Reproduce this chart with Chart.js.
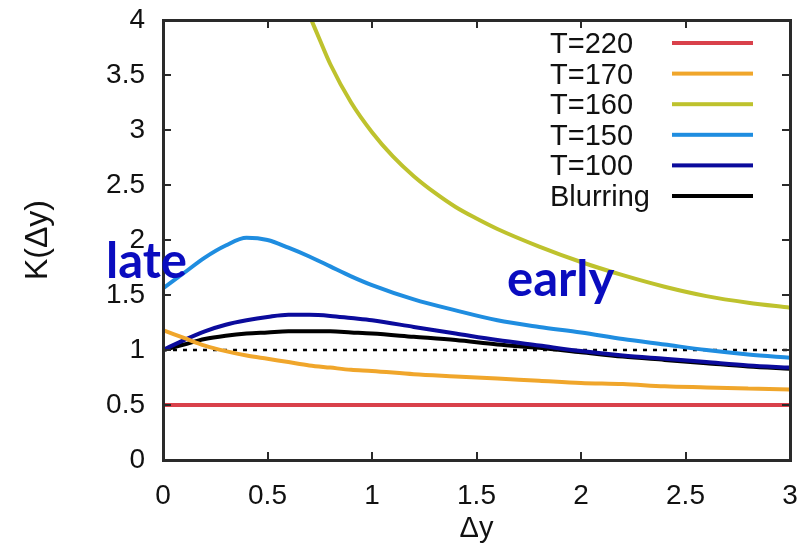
<!DOCTYPE html>
<html>
<head>
<meta charset="utf-8">
<script src="https://cdn.jsdelivr.net/npm/chart.js@4.4.1/dist/chart.umd.min.js"></script>
<style>
  html, body { margin: 0; padding: 0; background: #fff; }
  canvas { display: block; }
</style>
</head>
<body>
<canvas id="kChart" width="802" height="554"></canvas>
<script>
// shared Δy grid for most curves
var dyGrid = [0, 0.1, 0.2, 0.3, 0.4, 0.5, 0.6, 0.7, 0.8, 0.9, 1.0, 1.2, 1.4, 1.6, 1.8, 2.0, 2.2, 2.4, 2.6, 2.8, 3.0];
// T=160 only enters the frame at about Δy = 0.7
var dyGrid160 = [0.71, 0.75, 0.8, 0.9, 1.0, 1.1, 1.2, 1.3, 1.4, 1.5, 1.6, 1.8, 2.0, 2.2, 2.4, 2.6, 2.8, 3.0];

var kT220 = [0.5, 0.5, 0.5, 0.5, 0.5, 0.5, 0.5, 0.5, 0.5, 0.5, 0.5, 0.5, 0.5, 0.5, 0.5, 0.5, 0.5, 0.5, 0.5, 0.5, 0.5];
var kT170 = [1.18, 1.11, 1.04, 0.99, 0.95, 0.92, 0.89, 0.86, 0.84, 0.82, 0.81, 0.78, 0.76, 0.74, 0.72, 0.70, 0.69, 0.67, 0.66, 0.65, 0.64];
var kT160 = [4.0, 3.82, 3.60, 3.25, 2.98, 2.76, 2.58, 2.43, 2.30, 2.195, 2.10, 1.94, 1.80, 1.68, 1.575, 1.49, 1.43, 1.385];
var kT150 = [1.56, 1.70, 1.84, 1.95, 2.02, 2.00, 1.93, 1.85, 1.76, 1.67, 1.59, 1.46, 1.36, 1.27, 1.21, 1.16, 1.10, 1.05, 1.00, 0.96, 0.93];
var kT100 = [1.0, 1.09, 1.17, 1.23, 1.27, 1.30, 1.32, 1.32, 1.31, 1.29, 1.27, 1.21, 1.15, 1.09, 1.04, 0.99, 0.95, 0.92, 0.89, 0.86, 0.84];
var kBlur = [1.0, 1.05, 1.10, 1.13, 1.15, 1.16, 1.17, 1.17, 1.17, 1.16, 1.15, 1.12, 1.09, 1.05, 1.02, 0.98, 0.94, 0.91, 0.88, 0.85, 0.83];
var refLine = [1, 1]; // K = 1 reference, dotted
var refX = [0, 3];

var seriesLabels = ['T=220', 'T=170', 'T=160', 'T=150', 'T=100', 'Blurring'];
var seriesColors = ['#d9414b', '#f0a62b', '#bec22d', '#1f8de0', '#0b0b9c', '#000000'];

var xTicks = [0, 0.5, 1, 1.5, 2, 2.5, 3];
var yTicks = [0, 0.5, 1, 1.5, 2, 2.5, 3, 3.5, 4];

function toPoints(xs, ys) {
    return xs.map(function(x, i) { return {x: x, y: ys[i]}; });
}

var curves = [
    toPoints(dyGrid, kT220),
    toPoints(dyGrid, kT170),
    toPoints(dyGrid160, kT160),
    toPoints(dyGrid, kT150),
    toPoints(dyGrid, kT100),
    toPoints(dyGrid, kBlur)
];

var datasets = curves.map(function(pts, i) {
    return {
        label: seriesLabels[i],
        data: pts,
        borderColor: seriesColors[i],
        backgroundColor: seriesColors[i],
        borderWidth: 4,
        pointRadius: 0,
        cubicInterpolationMode: 'monotone',
        fill: false
    };
});
datasets.push({
    label: 'ref',
    data: toPoints(refX, refLine),
    borderColor: '#000',
    borderWidth: 2.5,
    borderDash: [4, 6],
    pointRadius: 0,
    fill: false
});

// plot frame, inward tick marks on all four sides, the key and the two text notes
var framePlugin = {
    id: 'framePlugin',
    afterDraw: function(chart) {
        var ctx = chart.ctx;
        var a = chart.chartArea;
        var xs = chart.scales.x, ys = chart.scales.y;
        var w = 3;
        ctx.save();
        ctx.setLineDash([]);
        ctx.fillStyle = '#2a2a2a';
        ctx.fillRect(a.left - 1, a.top - 1, a.right - a.left + w, w);
        ctx.fillRect(a.left - 1, a.bottom - 1, a.right - a.left + w, w);
        ctx.fillRect(a.left - 1, a.top - 1, w, a.bottom - a.top + w);
        ctx.fillRect(a.right - 1, a.top - 1, w, a.bottom - a.top + w);
        var len = 8;
        xTicks.forEach(function(v) {
            var px = Math.round(xs.getPixelForValue(v));
            ctx.fillRect(px - 1, a.bottom - len, 2, len);
            ctx.fillRect(px - 1, a.top, 2, len);
        });
        yTicks.forEach(function(v) {
            var py = Math.round(ys.getPixelForValue(v));
            ctx.fillRect(a.left, py - 1, len, 2);
            ctx.fillRect(a.right - len, py - 1, len, 2);
        });

        // key
        ctx.font = '29px "Liberation Sans", Arial, sans-serif';
        ctx.textAlign = 'left';
        ctx.textBaseline = 'alphabetic';
        seriesLabels.forEach(function(lbl, i) {
            var y = 43 + i * 30.6;
            ctx.fillStyle = '#111';
            ctx.fillText(lbl, 550, y + 10);
            ctx.fillStyle = seriesColors[i];
            ctx.fillRect(672, y - 2, 81, 4);
        });

        // notes
        ctx.font = 'bold 49px Lato, "Open Sans", sans-serif';
        ctx.fillStyle = '#0a0cbf';
        ctx.fillText('late', 106, 278);
        ctx.fillText('early', 507, 296);
        ctx.restore();
    }
};

var tickFont = { family: '"Liberation Sans", Arial, sans-serif', size: 28 };
function plainTick(value) {
    return String(Math.round(value * 10) / 10);
}

new Chart(document.getElementById('kChart').getContext('2d'), {
    type: 'line',
    data: { datasets: datasets },
    plugins: [framePlugin],
    options: {
        responsive: false,
        animation: false,
        devicePixelRatio: 1,
        layout: { padding: { top: 20, right: 12, left: 0, bottom: 0 } },
        plugins: {
            legend: { display: false },
            tooltip: { enabled: false }
        },
        scales: {
            x: {
                type: 'linear',
                min: 0,
                max: 3,
                grid: { display: false, drawTicks: false },
                border: { display: false },
                ticks: { stepSize: 0.5, padding: 19, color: '#111', font: tickFont, maxRotation: 0, callback: plainTick },
                title: { display: true, text: 'Δy', color: '#111', font: { family: '"Liberation Sans", Arial, sans-serif', size: 29 }, padding: { top: 0, bottom: 8 } },
                afterFit: function(scale) {
                    scale.height = 94;
                    scale.paddingLeft = 0;
                    scale.paddingRight = 0;
                }
            },
            y: {
                min: 0,
                max: 4,
                grid: { display: false, drawTicks: false },
                border: { display: false },
                ticks: { stepSize: 0.5, padding: 18, color: '#111', font: tickFont, callback: plainTick },
                title: { display: true, text: 'K(Δy)', color: '#111', font: { family: '"Liberation Sans", Arial, sans-serif', size: 32 }, padding: { top: 19, bottom: 0 } },
                afterFit: function(scale) {
                    scale.width = 163;
                    scale.paddingTop = 0;
                    scale.paddingBottom = 0;
                }
            }
        }
    }
});
</script>
</body>
</html>
